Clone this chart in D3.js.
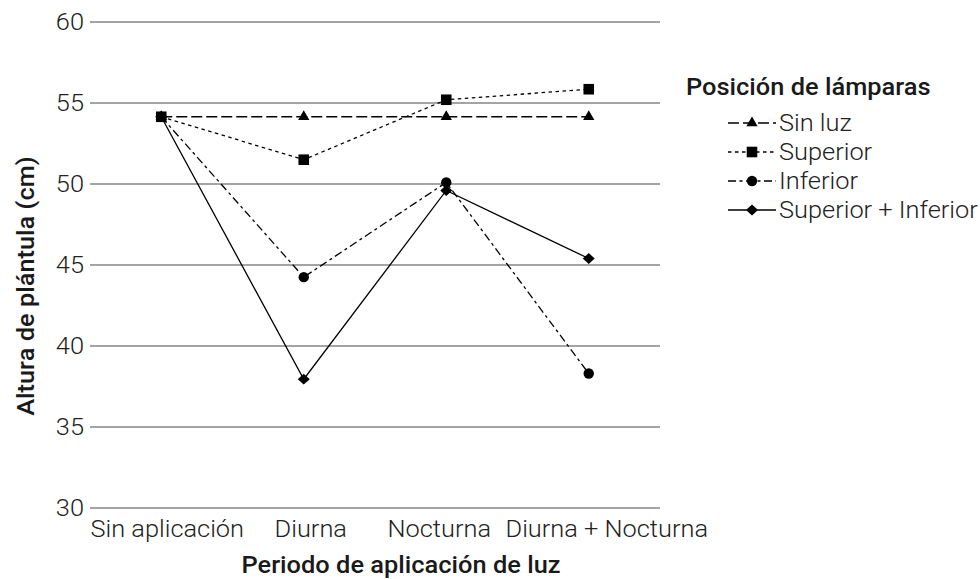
<!DOCTYPE html>
<html>
<head>
<meta charset="utf-8">
<script src="https://cdn.jsdelivr.net/npm/d3@7"></script>
<style>
body { margin: 0; background: #fff; }
text { font-family: Roboto, "Noto Sans", sans-serif; }
text.title { font-family: "Roboto Medium", Roboto, "Noto Sans", sans-serif; font-weight: 500; }
</style>
</head>
<body>
<script>
// chart data
var periods = ["Sin aplicación", "Diurna", "Nocturna", "Diurna + Nocturna"];
var yTicks = [30, 35, 40, 45, 50, 55, 60];
var seriesNames = ["Sin luz", "Superior", "Inferior", "Superior + Inferior"];
var sinLuz = [54.15, 54.15, 54.15, 54.15];
var superior = [54.15, 51.5, 55.2, 55.85];
var inferior = [54.15, 44.25, 50.1, 38.3];
var superiorInferior = [54.15, 37.95, 49.6, 45.4];

var width = 980, height = 579;
var fs = 23.5,      // font size
	sx = 1.08;      // text is a bit wider than normal in the original
var labelShift = [6, 7, -7, 18]; // x tick labels are not quite centred

var svg = d3.select("body").append("svg")
	.attr("width", width)
	.attr("height", height);

var x = d3.scalePoint()
	.domain(periods)
	.range([90, 660])
	.padding(0.5);

var y = d3.scaleLinear()
	.domain([30, 60])
	.range([508, 22]);

function tr(px, py){
	return "translate(" + px + "," + py + ") scale(" + sx + ",1)";
}

// gridlines
svg.selectAll(".grid")
	.data(yTicks)
	.enter()
	.append("line")
	.attr("x1", 90)
	.attr("x2", 660)
	.attr("y1", function(d){ return y(d); })
	.attr("y2", function(d){ return y(d); })
	.attr("stroke", "#4a4a4a")
	.attr("stroke-width", 1.1);

// y tick labels
svg.selectAll(".ytick")
	.data(yTicks)
	.enter()
	.append("text")
	.attr("transform", function(d){ return tr(84, y(d)); })
	.attr("dy", "0.36em")
	.attr("text-anchor", "end")
	.attr("font-size", fs)
	.attr("font-weight", 300)
	.attr("fill", "#222")
	.text(function(d){ return d; });

// x tick labels
svg.selectAll(".xtick")
	.data(periods)
	.enter()
	.append("text")
	.attr("transform", function(d, i){ return tr(x(d) + labelShift[i], 537); })
	.attr("text-anchor", "middle")
	.attr("font-size", fs)
	.attr("font-weight", 300)
	.attr("fill", "#222")
	.text(function(d){ return d; });

// axis titles
svg.append("text")
	.attr("class", "title")
	.attr("transform", tr(401, 573))
	.attr("text-anchor", "middle")
	.attr("font-size", fs)
	.attr("fill", "#1a1a1a")
	.text("Periodo de aplicación de luz");

svg.append("text")
	.attr("class", "title")
	.attr("transform", "translate(34,286) rotate(-90) scale(" + sx + ",1)")
	.attr("text-anchor", "middle")
	.attr("font-size", fs)
	.attr("fill", "#1a1a1a")
	.text("Altura de plántula (cm)");

// wide diamond marker like the original
var diamond = {
	draw: function(ctx, size){
		var w = Math.sqrt(size) * 0.85, h = w * 0.9;
		ctx.moveTo(0, -h);
		ctx.lineTo(w, 0);
		ctx.lineTo(0, h);
		ctx.lineTo(-w, 0);
		ctx.closePath();
	}
};

var series = [
	{name: seriesNames[0], values: sinLuz, dash: "11,4", symbol: d3.symbolTriangle, size: 55},
	{name: seriesNames[1], values: superior, dash: "3.5,3.5", symbol: d3.symbolSquare, size: 112},
	{name: seriesNames[2], values: inferior, dash: "8,3.5,3,3.5", symbol: d3.symbolCircle, size: 85},
	{name: seriesNames[3], values: superiorInferior, dash: null, symbol: diamond, size: 50}
];

var line = d3.line()
	.x(function(d, i){ return x(periods[i]); })
	.y(function(d){ return y(d); });

series.forEach(function(s){
	svg.append("path")
		.datum(s.values)
		.attr("d", line)
		.attr("fill", "none")
		.attr("stroke", "#000")
		.attr("stroke-width", 1.3)
		.attr("stroke-dasharray", s.dash);

	svg.selectAll(null)
		.data(s.values)
		.enter()
		.append("path")
		.attr("d", d3.symbol().type(s.symbol).size(s.size))
		.attr("transform", function(d, i){
			return "translate(" + x(periods[i]) + "," + y(d) + ")";
		})
		.attr("fill", "#000");
});

// legend
var legend = svg.append("g").attr("transform", "translate(686,0)");

legend.append("text")
	.attr("class", "title")
	.attr("transform", tr(0, 95))
	.attr("font-size", fs)
	.attr("fill", "#1a1a1a")
	.text("Posición de lámparas");

series.forEach(function(s, i){
	var ly = 123 + i * 29;
	legend.append("line")
		.attr("x1", 42)
		.attr("x2", 90)
		.attr("y1", ly)
		.attr("y2", ly)
		.attr("stroke", "#000")
		.attr("stroke-width", 1.3)
		.attr("stroke-dasharray", s.dash);
	legend.append("path")
		.attr("d", d3.symbol().type(s.symbol).size(s.size))
		.attr("transform", "translate(66," + ly + ")")
		.attr("fill", "#000");
	legend.append("text")
		.attr("transform", tr(93, ly))
		.attr("dy", "0.36em")
		.attr("font-size", fs)
		.attr("font-weight", 300)
		.attr("fill", "#222")
		.text(s.name);
});
</script>
</body>
</html>
